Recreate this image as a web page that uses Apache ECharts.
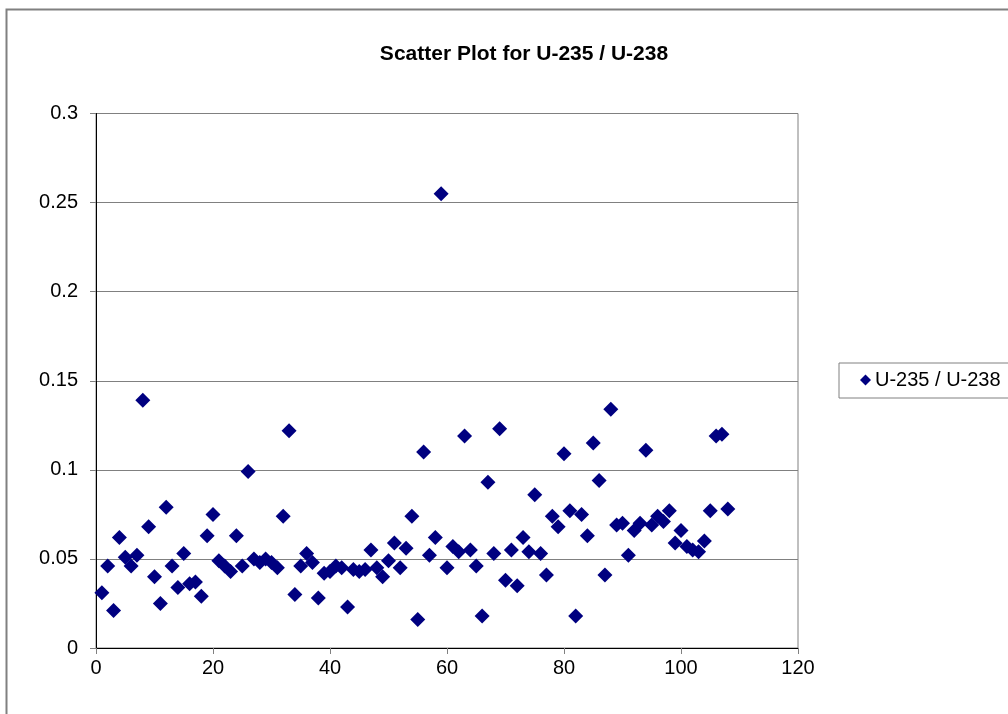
<!DOCTYPE html>
<html>
<head>
<meta charset="utf-8">
<script src="https://cdn.jsdelivr.net/npm/echarts@6/dist/echarts.min.js"></script>
<style>
html,body{margin:0;padding:0;background:#fff;}
#chart{width:1008px;height:714px;}
</style>
</head>
<body>
<div id="chart"></div>
<script>
var chartTitle = 'Scatter Plot for U-235 / U-238';
var seriesName = 'U-235 / U-238';
var xValues = [1,2,3,4,5,6,7,8,9,10,11,12,13,14,15,16,17,18,19,20,21,22,23,24,25,26,27,28,29,30,31,32,33,34,35,36,37,38,39,40,41,42,43,44,45,46,47,48,49,50,51,52,53,54,55,56,57,58,59,60,61,62,63,64,65,66,67,68,69,70,71,72,73,74,75,76,77,78,79,80,81,82,83,84,85,86,87,88,89,90,91,92,93,94,95,96,97,98,99,100,101,102,103,104,105,106,107,108];
var yValues = [0.031,0.046,0.021,0.062,0.051,0.046,0.052,0.139,0.068,0.040,
  0.025,0.079,0.046,0.034,0.053,0.036,0.037,0.029,0.063,0.075,
  0.049,0.046,0.043,0.063,0.046,0.099,0.050,0.048,0.050,0.048,
  0.045,0.074,0.122,0.030,0.046,0.053,0.048,0.028,0.042,0.043,
  0.046,0.045,0.023,0.044,0.043,0.044,0.055,0.045,0.040,0.049,
  0.059,0.045,0.056,0.074,0.016,0.110,0.052,0.062,0.255,0.045,
  0.057,0.054,0.119,0.055,0.046,0.018,0.093,0.053,0.123,0.038,
  0.055,0.035,0.062,0.054,0.086,0.053,0.041,0.074,0.068,0.109,
  0.077,0.018,0.075,0.063,0.115,0.094,0.041,0.134,0.069,0.070,
  0.052,0.066,0.070,0.111,0.069,0.074,0.071,0.077,0.059,0.066,
  0.057,0.055,0.054,0.060,0.077,0.119,0.120,0.078];
var xTicks = {min: 0, max: 120, interval: 20};
var yTicks = {min: 0, max: 0.3, interval: 0.05};

var points = xValues.map(function (x, i) { return [x, yValues[i]]; });
var FONT = '"Liberation Sans", Arial, sans-serif';
var chart = echarts.init(document.getElementById('chart'), null, {renderer: 'canvas'});
chart.setOption({
  backgroundColor: '#ffffff',
  animation: false,
  title: {
    text: chartTitle,
    left: 519, top: 39, textAlign: 'center',
    textStyle: {fontFamily: FONT, fontSize: 21, fontWeight: 'bold', color: '#000'}
  },
  graphic: [{
    type: 'rect', silent: true, z: -1,
    shape: {x: 6.5, y: 9.5, width: 1010, height: 710},
    style: {fill: 'none', stroke: '#808080', lineWidth: 2}
  }],
  legend: {
    left: 839, top: 363,
    orient: 'vertical',
    padding: [7, 20, 8, 21],
    borderColor: '#808080', borderWidth: 1,
    itemWidth: 11, itemHeight: 11, itemGap: 4,
    textStyle: {fontFamily: FONT, fontSize: 20, color: '#000', padding: [0, 0, 0, -1]},
    data: [{name: seriesName, icon: 'diamond'}]
  },
  grid: {
    left: 96, right: 210, top: 113.5, bottom: 66,
    show: true, borderColor: '#808080', borderWidth: 1, containLabel: false
  },
  xAxis: {
    type: 'value', min: xTicks.min, max: xTicks.max, interval: xTicks.interval,
    axisLine: {show: true, onZero: false, lineStyle: {color: '#000', width: 1}},
    axisTick: {show: true, inside: false, length: 6, lineStyle: {color: '#808080'}},
    splitLine: {show: false},
    axisLabel: {fontFamily: FONT, fontSize: 20, color: '#000', margin: 10}
  },
  yAxis: {
    type: 'value', min: yTicks.min, max: yTicks.max, interval: yTicks.interval,
    axisLine: {show: true, onZero: false, lineStyle: {color: '#000', width: 1}},
    axisTick: {show: true, inside: false, length: 6, lineStyle: {color: '#808080'}},
    splitLine: {show: true, lineStyle: {color: '#808080', width: 1}},
    axisLabel: {fontFamily: FONT, fontSize: 20, color: '#000', margin: 18,
      formatter: function (v) { return String(+v.toFixed(2)); }}
  },
  series: [{
    name: seriesName, type: 'scatter', data: points,
    symbol: 'diamond', symbolSize: 15,
    itemStyle: {color: '#000080', opacity: 1}
  }]
});
</script>
</body>
</html>
